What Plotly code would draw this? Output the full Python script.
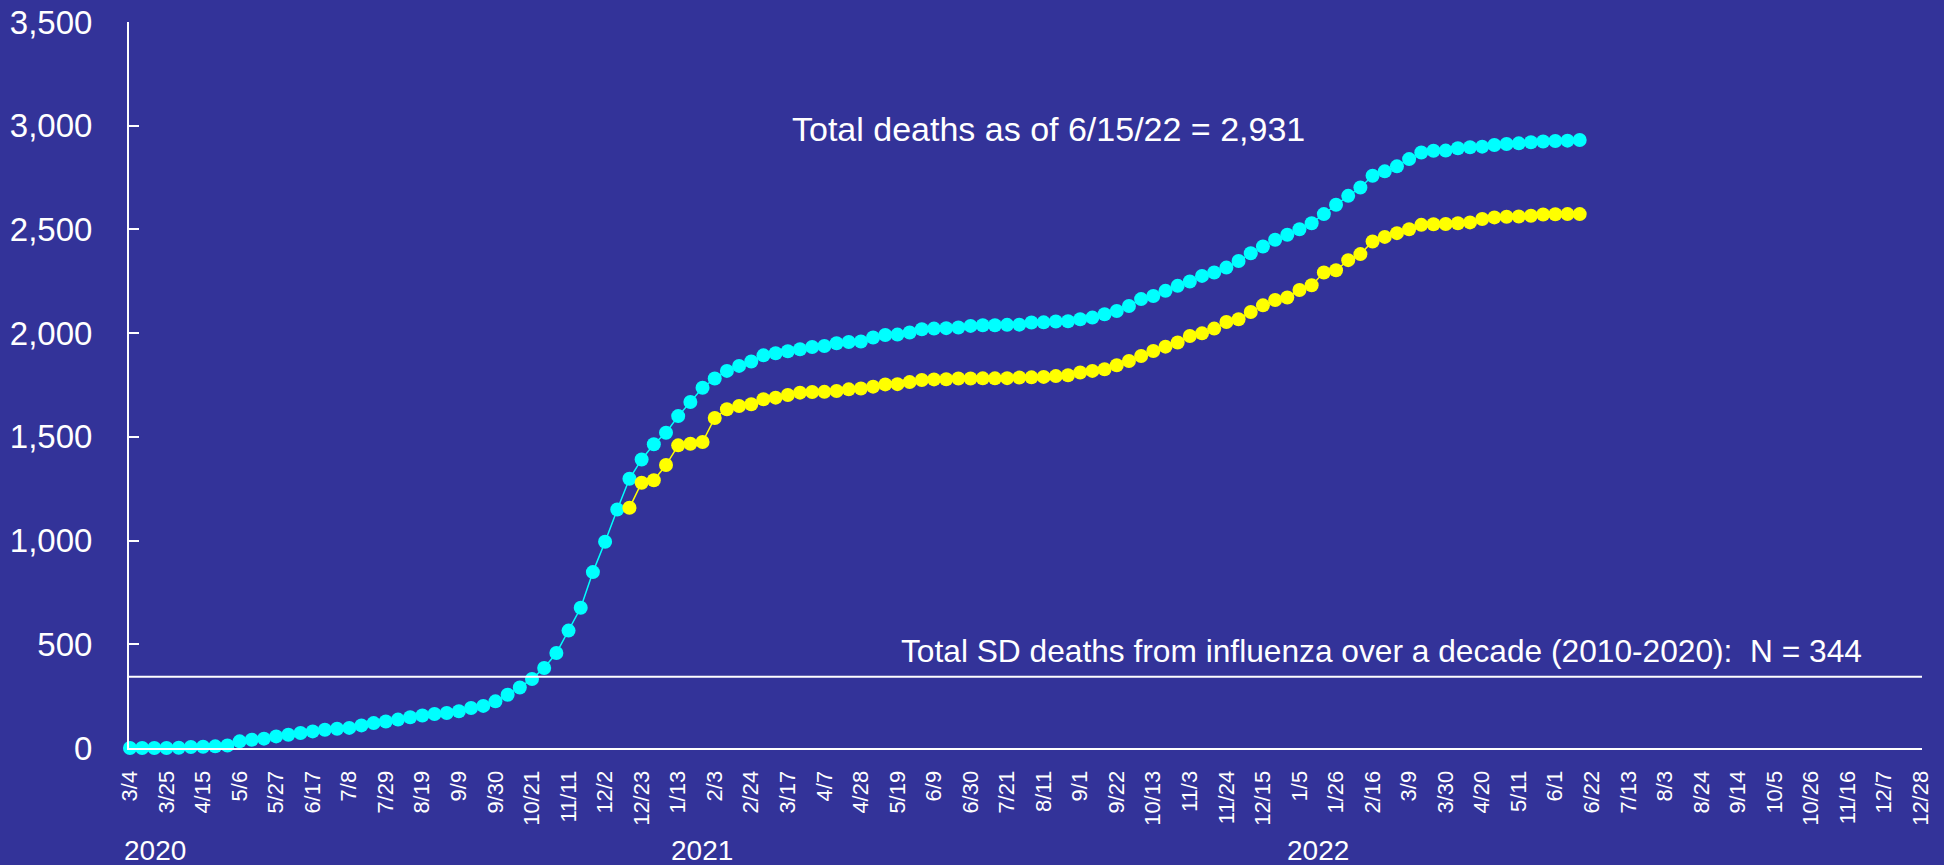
import pandas as pd
import plotly.graph_objects as go

# weekly reporting dates (Wednesdays), 3/4/2020 .. 12/28/2022
weeks = [d.strftime("%Y-%m-%d") for d in pd.date_range("2020-03-04", "2022-12-28", freq="7D")]

tick_labels = [
    "3/4", "3/25", "4/15", "5/6", "5/27", "6/17", "7/8", "7/29", "8/19", "9/9",
    "9/30", "10/21", "11/11", "12/2", "12/23",
    "1/13", "2/3", "2/24", "3/17", "4/7", "4/28", "5/19", "6/9", "6/30", "7/21",
    "8/11", "9/1", "9/22", "10/13", "11/3", "11/24", "12/15",
    "1/5", "1/26", "2/16", "3/9", "3/30", "4/20", "5/11", "6/1", "6/22", "7/13",
    "8/3", "8/24", "9/14", "10/5", "10/26", "11/16", "12/7", "12/28",
]

# cumulative deaths, 3/4/2020 .. 6/15/2022
total_deaths = [
    0, 0, 0, 0, 1, 5, 6, 8, 12, 32,
    40, 45, 56, 64, 72, 80, 88, 93, 97, 109,
    120, 128, 137, 148, 157, 164, 169, 177, 193, 203,
    225, 257, 292, 333, 386, 458, 566, 676, 848, 994,
    1150, 1298, 1391, 1464, 1520, 1600, 1668, 1737, 1781, 1818,
    1842, 1863, 1893, 1903, 1913, 1922, 1933, 1938, 1951, 1957,
    1960, 1979, 1991, 1993, 2003, 2019, 2022, 2024, 2027, 2035,
    2038, 2038, 2040, 2041, 2051, 2052, 2056, 2057, 2067, 2075,
    2091, 2107, 2131, 2164, 2179, 2204, 2228, 2249, 2276, 2292,
    2316, 2348, 2385, 2418, 2450, 2474, 2501, 2530, 2574, 2619,
    2662, 2702, 2759, 2780, 2804, 2839, 2871, 2879, 2880, 2891,
    2896, 2899, 2907, 2912, 2915, 2920, 2924, 2926, 2928, 2931,
]

# second series starts 12/16/2020
second_start = "2020-12-16"
second_deaths = [
    1158, 1279, 1291, 1364, 1459, 1467, 1475, 1591, 1633, 1649,
    1657, 1681, 1689, 1702, 1713, 1716, 1717, 1721, 1729, 1733,
    1742, 1753, 1754, 1764, 1774, 1777, 1778, 1781, 1781, 1782,
    1782, 1783, 1786, 1787, 1789, 1793, 1797, 1810, 1818, 1826,
    1845, 1866, 1890, 1914, 1935, 1955, 1986, 1999, 2022, 2054,
    2067, 2102, 2134, 2160, 2172, 2208, 2231, 2292, 2303, 2352,
    2381, 2442, 2464, 2482, 2501, 2522, 2525, 2526, 2530, 2534,
    2550, 2558, 2561, 2562, 2566, 2572, 2573, 2574, 2574,
]

flu_deaths = 344
years = ["2020", "2021", "2022"]

BG = "#333399"
FONT = "Arial, Liberation Sans, sans-serif"

s0 = weeks.index(second_start)

fig = go.Figure()
# empty trace so every week exists on the category axis
fig.add_trace(go.Scatter(x=weeks, y=[None] * len(weeks), mode="markers",
                         showlegend=False, hoverinfo="skip"))
fig.add_trace(go.Scatter(
    x=weeks[:len(total_deaths)], y=total_deaths,
    mode="lines+markers",
    line=dict(color="#00FFFF", width=1.5),
    marker=dict(color="#00FFFF", size=14),
    cliponaxis=False, showlegend=False))
fig.add_trace(go.Scatter(
    x=weeks[s0:s0 + len(second_deaths)], y=second_deaths,
    mode="lines+markers",
    line=dict(color="#FFFF00", width=1.5),
    marker=dict(color="#FFFF00", size=14),
    cliponaxis=False, showlegend=False))

fig.add_shape(type="line", xref="paper", x0=0, x1=1, yref="y", y0=flu_deaths, y1=flu_deaths,
              line=dict(color="white", width=2))

fig.add_annotation(text="Total deaths as of 6/15/22 = 2,931", xref="paper", yref="paper",
                   x=0.3685, y=0.853, xanchor="left", yanchor="middle", showarrow=False,
                   font=dict(family=FONT, size=34, color="white"))
fig.add_annotation(text=f"Total SD deaths from influenza over a decade (2010-2020):  N = {flu_deaths}",
                   xref="paper", yref="paper", x=0.4295, y=0.133, xanchor="left", yanchor="middle",
                   showarrow=False, font=dict(family=FONT, size=31.7, color="white"))
for yr, xp in zip(years, [-0.004, 0.3012, 0.6447]):
    fig.add_annotation(text=yr, xref="paper", yref="paper", x=xp, y=-0.1405,
                       xanchor="left", yanchor="middle", showarrow=False,
                       font=dict(family=FONT, size=28, color="white"))

fig.update_xaxes(type="category", range=[-0.08, 147.1],
                 categoryorder="array", categoryarray=weeks,
                 tickmode="array", tickvals=weeks[::3], ticktext=tick_labels,
                 tickangle=-90, tickfont=dict(family=FONT, size=22, color="white"),
                 showline=True, linecolor="white", linewidth=2,
                 showgrid=False, zeroline=False, ticks="", ticklabelstandoff=12)
fig.update_yaxes(range=[0, 3500], dtick=500, tickformat=",",
                 tickfont=dict(family=FONT, size=33, color="white"),
                 showline=True, linecolor="white", linewidth=2,
                 ticks="inside", ticklen=10, tickwidth=2, tickcolor="white",
                 showgrid=False, zeroline=False, ticklabelstandoff=28)

fig.update_layout(width=1944, height=865,
                  paper_bgcolor=BG, plot_bgcolor=BG,
                  margin=dict(l=129, r=22, t=22, b=117, autoexpand=False),
                  font=dict(family=FONT, color="white"))

# drop the page's default body margin so the figure fills the window
fig.write_html("out.html", config={"displayModeBar": False},
               post_script="document.body.style.margin='0';"
                           "document.body.style.background='#333399';")
